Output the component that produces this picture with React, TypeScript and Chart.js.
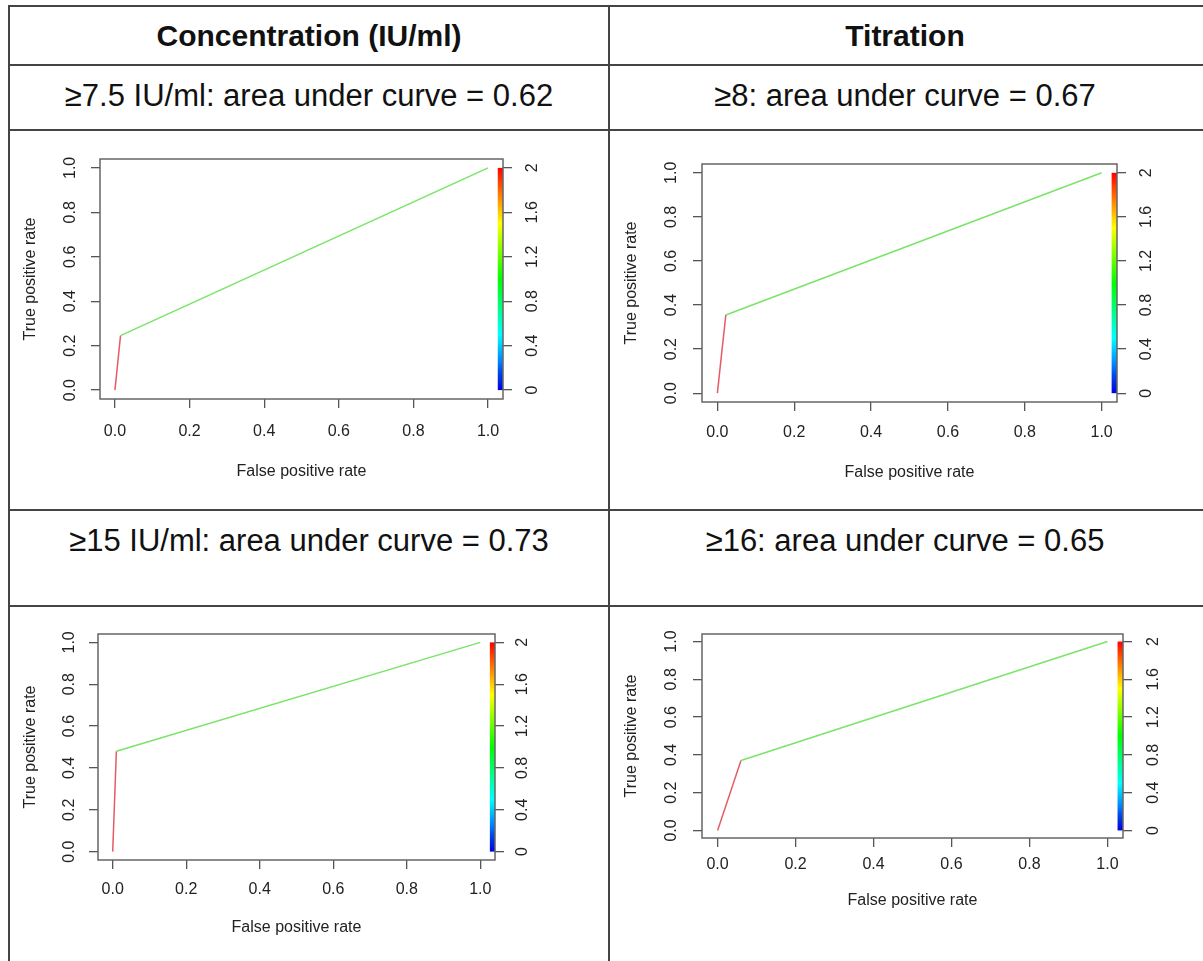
import React, { useEffect, useRef } from 'react';
import { Chart, registerables } from 'chart.js';

Chart.register(...registerables);

const FONT = '"Liberation Sans", Arial, Helvetica, sans-serif';

// ---------- data ----------
const columnHeaders = ['Concentration (IU/ml)', 'Titration'];
const panelTitles = [
  '≥7.5 IU/ml: area under curve = 0.62',
  '≥8: area under curve = 0.67',
  '≥15 IU/ml: area under curve = 0.73',
  '≥16: area under curve = 0.65',
];

const conc75Fpr = [0, 0.015, 1];
const conc75Tpr = [0, 0.245, 1];
const titr8Fpr = [0, 0.022, 1];
const titr8Tpr = [0, 0.355, 1];
const conc15Fpr = [0, 0.01, 1];
const conc15Tpr = [0, 0.48, 1];
const titr16Fpr = [0, 0.06, 1];
const titr16Tpr = [0, 0.37, 1];

const rateTicks = [0, 0.2, 0.4, 0.6, 0.8, 1];
const rateTickLabels = ['0.0', '0.2', '0.4', '0.6', '0.8', '1.0'];
const cutoffTicks = [0, 0.4, 0.8, 1.2, 1.6, 2];
const cutoffTickLabels = ['0', '0.4', '0.8', '1.2', '1.6', '2'];
const xAxisTitle = 'False positive rate';
const yAxisTitle = 'True positive rate';

// ---------- styles / layout ----------
const SEG_COLORS = ['rgb(228,92,104)', 'rgb(122,228,104)'];
const LINE_COLOR = '#444';
const AX_L = 100;
const AX_R = 70;
const AX_B = 100;
const PAD_T = 20;

const PANELS = [
  { fpr: conc75Fpr, tpr: conc75Tpr, box: { l: 100, t: 159, r: 503, b: 399 }, off: { xLab: 33, xTitle: 73, yLab: 29, yTitle: 69, y2Lab: 30 } },
  { fpr: titr8Fpr, tpr: titr8Tpr, box: { l: 702, t: 164, r: 1117, b: 402 }, off: { xLab: 31, xTitle: 71, yLab: 30, yTitle: 70, y2Lab: 30 } },
  { fpr: conc15Fpr, tpr: conc15Tpr, box: { l: 98, t: 634, r: 495, b: 860 }, off: { xLab: 30, xTitle: 68, yLab: 28, yTitle: 67, y2Lab: 28 } },
  { fpr: titr16Fpr, tpr: titr16Tpr, box: { l: 702, t: 634, r: 1123, b: 838 }, off: { xLab: 27, xTitle: 63, yLab: 30, yTitle: 70, y2Lab: 31 } },
];

const rocDecor = {
  id: 'rocDecor',
  beforeDatasetsDraw(chart: any) {
    const { ctx, chartArea: a, scales } = chart;
    const x = scales.x;
    const y2 = scales.y2;
    ctx.save();
    const cx0 = x.getPixelForValue(1.026);
    const cx1 = a.right;
    const cyTop = y2.getPixelForValue(2);
    const cyBot = y2.getPixelForValue(0);
    const g = ctx.createLinearGradient(0, cyBot, 0, cyTop);
    for (let i = 0; i <= 24; i++) {
      const f = i / 24;
      g.addColorStop(f, `hsl(${240 * (1 - f)},100%,${f < 0.1 ? 45 : 50}%)`);
    }
    ctx.fillStyle = g;
    ctx.fillRect(cx0, cyTop, cx1 - cx0, cyBot - cyTop);
    ctx.restore();
  },
  afterDraw(chart: any, _args: any, opts: any) {
    const { ctx, chartArea: a, scales } = chart;
    const off = opts.off;
    const x = scales.x;
    const y = scales.y;
    const y2 = scales.y2;
    ctx.save();
    ctx.strokeStyle = '#666';
    ctx.lineWidth = 1.5;
    ctx.strokeRect(a.left, a.top, a.right - a.left, a.bottom - a.top);

    ctx.fillStyle = '#222';
    ctx.font = `16px ${FONT}`;
    ctx.textAlign = 'center';
    ctx.textBaseline = 'middle';
    rateTicks.forEach((v, i) => ctx.fillText(rateTickLabels[i], x.getPixelForValue(v), a.bottom + off.xLab));
    ctx.fillText(xAxisTitle, (a.left + a.right) / 2, a.bottom + off.xTitle);
    const rot = (txt: string, px: number, py: number) => {
      ctx.save();
      ctx.translate(px, py);
      ctx.rotate(-Math.PI / 2);
      ctx.fillText(txt, 0, 0);
      ctx.restore();
    };
    rateTicks.forEach((v, i) => rot(rateTickLabels[i], a.left - off.yLab, y.getPixelForValue(v)));
    rot(yAxisTitle, a.left - off.yTitle, (a.top + a.bottom) / 2);
    cutoffTicks.forEach((v, i) => rot(cutoffTickLabels[i], a.right + off.y2Lab, y2.getPixelForValue(v)));
    ctx.restore();
  },
};

function tickGrid() {
  return { display: true, drawOnChartArea: false, drawTicks: true, tickLength: 9, color: '#555', lineWidth: 1.3 };
}

function RocPanel({ idx }: { idx: number }) {
  const ref = useRef<HTMLCanvasElement | null>(null);
  const p = PANELS[idx];
  const w = p.box.r - p.box.l + AX_L + AX_R;
  const h = p.box.b - p.box.t + PAD_T + AX_B;
  useEffect(() => {
    if (!ref.current) return;
    const points = p.fpr.map((fx, i) => ({ x: fx, y: p.tpr[i] }));
    const chart = new Chart(ref.current, {
      type: 'scatter',
      data: {
        datasets: [
          {
            data: points,
            showLine: true,
            pointRadius: 0,
            borderWidth: 1.5,
            borderColor: SEG_COLORS[1],
            segment: { borderColor: (c: any) => SEG_COLORS[c.p0DataIndex] || SEG_COLORS[1] },
          } as any,
        ],
      },
      options: {
        responsive: false,
        animation: false,
        events: [],
        layout: { padding: { top: PAD_T, left: 0, right: 0, bottom: 0 } },
        plugins: {
          legend: { display: false },
          tooltip: { enabled: false },
          rocDecor: { off: p.off },
        } as any,
        scales: {
          x: {
            type: 'linear',
            position: 'bottom',
            min: -0.04,
            max: 1.04,
            grid: tickGrid(),
            border: { display: false },
            ticks: { display: false },
            afterBuildTicks: (s: any) => { s.ticks = rateTicks.map((v) => ({ value: v })); },
            afterFit: (s: any) => { s.height = AX_B; },
          },
          y: {
            type: 'linear',
            position: 'left',
            min: -0.04,
            max: 1.04,
            grid: tickGrid(),
            border: { display: false },
            ticks: { display: false },
            afterBuildTicks: (s: any) => { s.ticks = rateTicks.map((v) => ({ value: v })); },
            afterFit: (s: any) => { s.width = AX_L; },
          },
          y2: {
            type: 'linear',
            position: 'right',
            min: -0.08,
            max: 2.08,
            grid: tickGrid(),
            border: { display: false },
            ticks: { display: false },
            afterBuildTicks: (s: any) => { s.ticks = cutoffTicks.map((v) => ({ value: v })); },
            afterFit: (s: any) => { s.width = AX_R; },
          },
        } as any,
      },
      plugins: [rocDecor as any],
    });
    return () => chart.destroy();
  }, []);
  return (
    <canvas
      ref={ref}
      width={w}
      height={h}
      style={{ position: 'absolute', left: p.box.l - AX_L, top: p.box.t - PAD_T, width: w, height: h }}
    />
  );
}

function HLine({ y }: { y: number }) {
  return <div style={{ position: 'absolute', left: 8, top: y, width: 1195, height: 2, background: LINE_COLOR }} />;
}
function VLine({ x, y }: { x: number; y: number }) {
  return <div style={{ position: 'absolute', left: x, top: y, width: 2, height: 961 - y, background: LINE_COLOR }} />;
}

function CellText({ text, left, width, top, bold, size }: { text: string; left: number; width: number; top: number; bold?: boolean; size: number }) {
  return (
    <div
      style={{
        position: 'absolute',
        left,
        width,
        top,
        textAlign: 'center',
        fontFamily: FONT,
        fontSize: size,
        lineHeight: `${size}px`,
        fontWeight: bold ? 700 : 400,
        color: '#111',
        whiteSpace: 'nowrap',
      }}
    >
      {text}
    </div>
  );
}

export default function App() {
  return (
    <div style={{ position: 'absolute', left: 0, top: 0, width: 1203, height: 961, overflow: 'hidden', background: '#fff' }}>
      <HLine y={5} />
      <HLine y={64} />
      <HLine y={129} />
      <HLine y={509} />
      <HLine y={605} />
      <VLine x={8} y={5} />
      <VLine x={608} y={5} />
      <CellText text={columnHeaders[0]} left={9} width={600} top={21} bold size={30} />
      <CellText text={columnHeaders[1]} left={609} width={592} top={21} bold size={30} />
      <CellText text={panelTitles[0]} left={9} width={600} top={80} size={31} />
      <CellText text={panelTitles[1]} left={609} width={592} top={80} size={31} />
      <CellText text={panelTitles[2]} left={9} width={600} top={525} size={31} />
      <CellText text={panelTitles[3]} left={609} width={592} top={525} size={31} />
      {PANELS.map((_, i) => (
        <RocPanel key={i} idx={i} />
      ))}
    </div>
  );
}
